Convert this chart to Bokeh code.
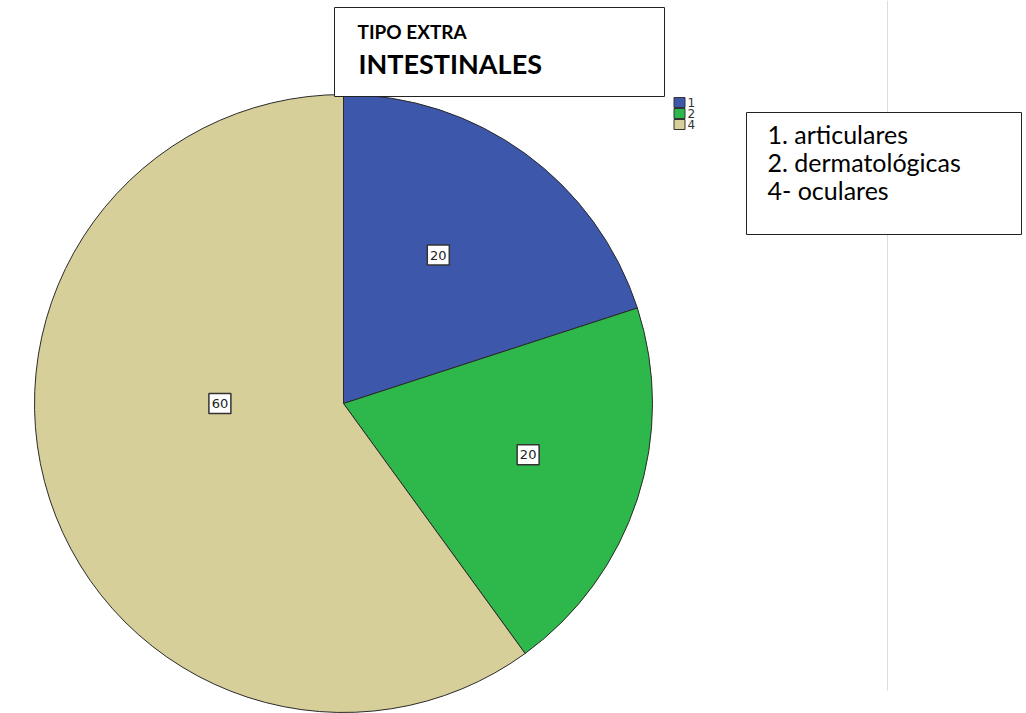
import math
from bokeh.plotting import figure
from bokeh.models import Range1d
from bokeh.core.properties import value
from bokeh.embed import file_html
from bokeh.resources import INLINE

# ---- data ----
categories = ["1", "2", "4"]
percentages = [20, 20, 60]
descriptions = ["1. articulares", "2. dermatológicas", "4- oculares"]
colors = ["#3d57ab", "#2eb84b", "#d6cf99"]
title_lines = ["TIPO EXTRA", "INTESTINALES"]

W, H = 1026, 713
def Y(ys):
    return H - ys

p = figure(width=W, height=H, output_backend="svg", toolbar_location=None,
           x_range=Range1d(0, W), y_range=Range1d(0, H), min_border=0)
p.axis.visible = False
p.grid.visible = False
p.outline_line_color = None
p.background_fill_color = "white"

# vertical light separator line
p.segment(x0=[887], y0=[Y(0)], x1=[887], y1=[Y(690)], line_color="#dcdcdc", line_width=1)

# ---- pie ----
cx, cy, R = 343, Y(403), 309
total = sum(percentages)
starts, ends = [], []
acc = 0.0
for v in percentages:
    a0 = math.pi / 2 - 2 * math.pi * acc / total
    acc += v
    a1 = math.pi / 2 - 2 * math.pi * acc / total
    starts.append(a0)
    ends.append(a1)
p.wedge(x=[cx] * 3, y=[cy] * 3, radius=R, start_angle=starts, end_angle=ends,
        direction="clock", fill_color=colors, line_color="#2a2a2a", line_width=1)

# slice labels
lx, ly = [], []
frac = [0.57, 0.62, 0.4]
for i, (a0, a1) in enumerate(zip(starts, ends)):
    m = (a0 + a1) / 2
    if i == 0:
        m += 0.06
    if i == 1:
        m += 0.044
    if i == 2:
        m = math.pi  # SPSS centers the large slice label horizontally
    lx.append(cx + frac[i] * R * math.cos(m))
    ly.append(cy + frac[i] * R * math.sin(m))
p.rect(x=lx, y=ly, width=22, height=20, fill_color="white", line_color="#333333", line_width=1.5)
p.text(x=lx, y=ly, text=[str(v) for v in percentages], text_align="center",
       text_baseline="middle", text_font=value("DejaVu Sans"), text_font_size="13px",
       text_color="#222222")

# ---- title box ----
p.quad(left=[334], right=[664], top=[Y(7)], bottom=[Y(96)], fill_color="white",
       line_color="#222222", line_width=1)
p.text(x=[357], y=[Y(31)], text=[title_lines[0]], text_baseline="middle",
       text_font=value("Lato"), text_font_style="bold", text_font_size="19px", text_color="black")
p.text(x=[358], y=[Y(63)], text=[title_lines[1]], text_baseline="middle",
       text_font=value("Lato"), text_font_style="bold", text_font_size="27px", text_color="black")

# ---- small legend ----
lgx = 679
lgy = [Y(102 + 11 * i) for i in range(len(categories))]
p.rect(x=[lgx] * 3, y=lgy, width=11, height=10, fill_color=colors, line_color="#333333", line_width=1)
p.text(x=[lgx + 8] * 3, y=lgy, text=categories, text_baseline="middle",
       text_font=value("DejaVu Sans"), text_font_size="12px", text_color="#333333")

# ---- description box ----
p.quad(left=[746], right=[1021], top=[Y(112)], bottom=[Y(234)], fill_color="white",
       line_color="#222222", line_width=1)
p.text(x=[767] * 3, y=[Y(133 + 28 * i) for i in range(3)], text=descriptions,
       text_baseline="middle", text_font=value("Lato"), text_font_size="25px", text_color="black")

open("out.html", "w").write(file_html(p, INLINE))
